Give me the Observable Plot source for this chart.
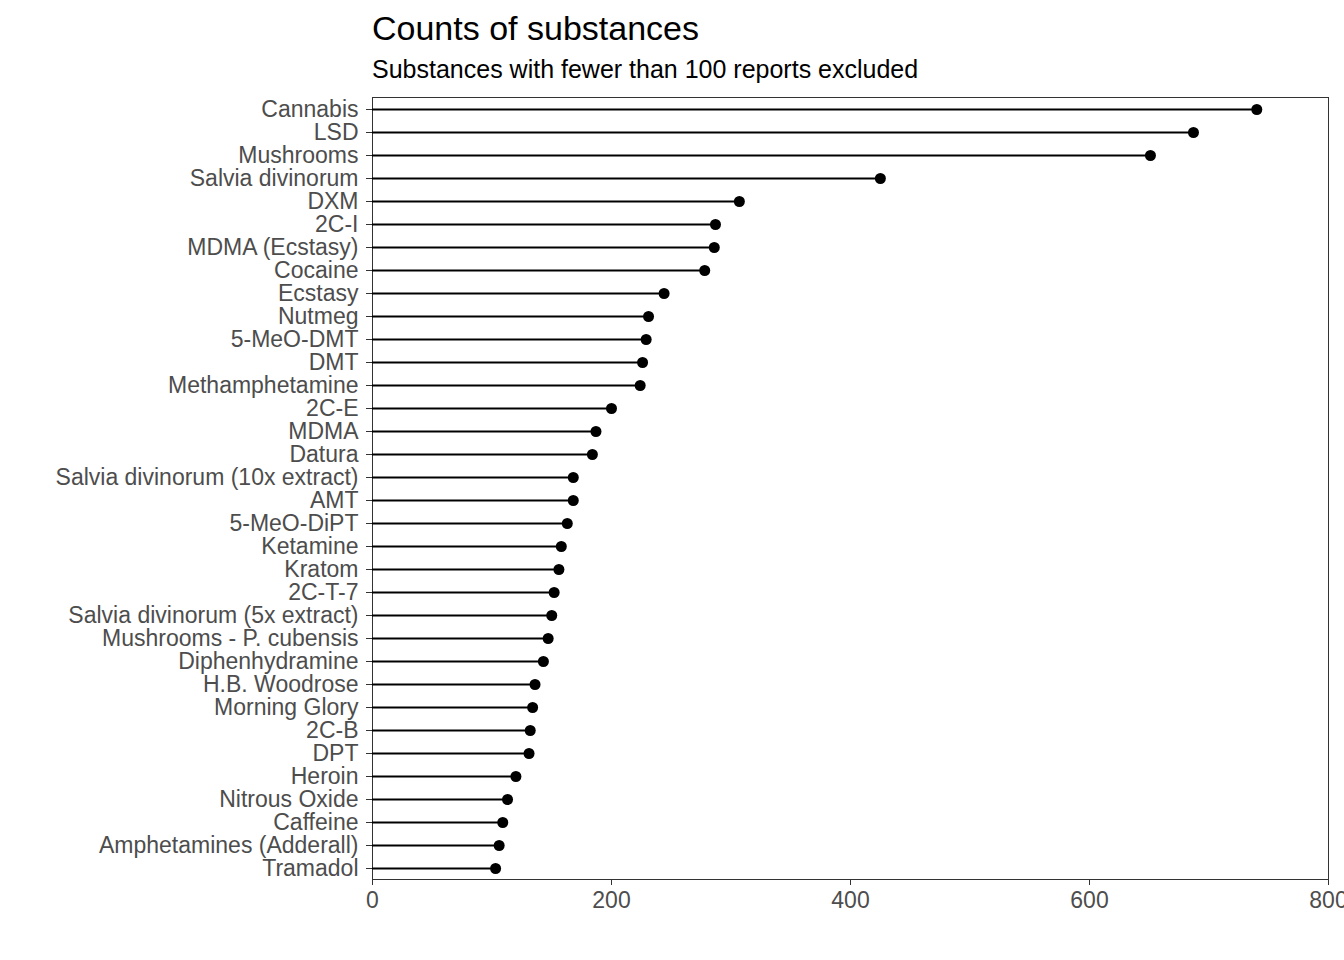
<!DOCTYPE html>
<html>
<head>
<meta charset="utf-8">
<script src="https://cdn.jsdelivr.net/npm/d3@7"></script>
<script src="https://cdn.jsdelivr.net/npm/@observablehq/plot@0.6"></script>
<style>
  body { margin: 0; background: white; font-family: "Liberation Sans", Arial, sans-serif; }
  #title { position: absolute; left: 372px; top: 8px; font-size: 34px; color: #000; line-height: 40px; }
  #subtitle { position: absolute; left: 372px; top: 54px; font-size: 25px; color: #000; line-height: 30px; }
  #chart { position: absolute; left: 0; top: 88px; }
</style>
</head>
<body>
<div id="title">Counts of substances</div>
<div id="subtitle">Substances with fewer than 100 reports excluded</div>
<div id="chart"></div>
<script>
// Substance names, top to bottom
const substances = [
  "Cannabis", "LSD", "Mushrooms", "Salvia divinorum", "DXM", "2C-I", "MDMA (Ecstasy)",
  "Cocaine", "Ecstasy", "Nutmeg", "5-MeO-DMT", "DMT", "Methamphetamine", "2C-E", "MDMA",
  "Datura", "Salvia divinorum (10x extract)", "AMT", "5-MeO-DiPT", "Ketamine", "Kratom",
  "2C-T-7", "Salvia divinorum (5x extract)", "Mushrooms - P. cubensis", "Diphenhydramine",
  "H.B. Woodrose", "Morning Glory", "2C-B", "DPT", "Heroin", "Nitrous Oxide", "Caffeine",
  "Amphetamines (Adderall)", "Tramadol"
];
// Report counts
const counts = [
  740, 687, 651, 425, 307, 287, 286, 278, 244, 231, 229, 226, 224, 200, 187,
  184, 168, 168, 163, 158, 156, 152, 150, 147, 143, 136, 134, 132, 131, 120,
  113, 109, 106, 103
];
const xTicks = [0, 200, 400, 600, 800];

const data = substances.map((name, i) => ({name, n: counts[i]}));

const plot = Plot.plot({
  width: 1344,
  height: 872,
  marginLeft: 372,
  marginRight: 16,
  marginTop: 9,
  marginBottom: 81,
  style: {fontFamily: "Liberation Sans, Arial, sans-serif", fontSize: "23px", color: "#4d4d4d", background: "white"},
  x: {domain: [0, 800], ticks: xTicks, label: null},
  y: {type: "point", domain: substances, padding: 0.3, label: null},
  marks: [
    Plot.frame({stroke: "#333", strokeWidth: 1}),
    Plot.axisX({ticks: xTicks, tickSize: 6, label: null, fontSize: 23, stroke: "#333", color: "#4d4d4d", tickPadding: 6}),
    Plot.axisY({tickSize: 6, label: null, fontSize: 23, stroke: "#333", color: "#4d4d4d", tickPadding: 8}),
    Plot.ruleY(data, {y: "name", x1: 0, x2: "n", stroke: "black", strokeWidth: 2.2}),
    Plot.dot(data, {y: "name", x: "n", r: 5.5, fill: "black"})
  ]
});
document.getElementById("chart").appendChild(plot);
</script>
</body>
</html>
